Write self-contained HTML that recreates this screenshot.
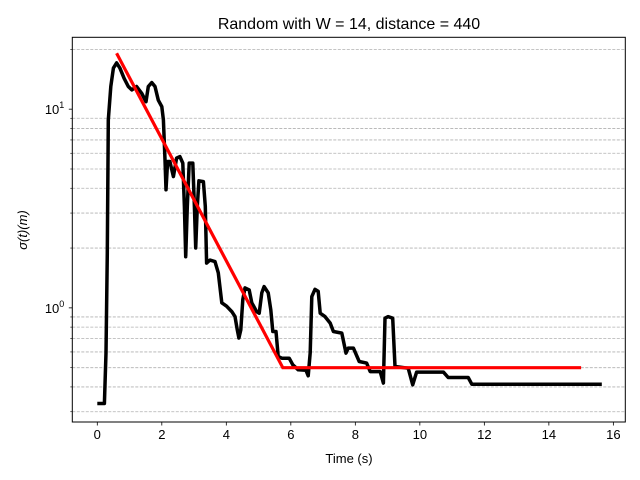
<!DOCTYPE html>
<html><head><meta charset="utf-8"><style>
body{margin:0;background:#fff;}
svg{display:block;font-family:"Liberation Sans","DejaVu Sans",sans-serif;}
</style></head><body>
<svg id="chart" width="640" height="480" xmlns="http://www.w3.org/2000/svg">
<rect width="640" height="480" fill="#fff"/>
<text x="349" y="29" font-size="16" text-anchor="middle">Random with W = 14, distance = 440</text>
<text x="349" y="463" font-size="13" text-anchor="middle">Time (s)</text>
<text transform="translate(27,230) rotate(-90)" font-size="13" text-anchor="middle" font-style="italic">σ(t)(m)</text>
<g id="grid"></g>
<g id="ticks"></g>
<g id="series"></g>
<rect x="72.3" y="37.3" width="553" height="384.7" fill="none" stroke="#000" stroke-width="1"/>
</svg>
<script>
const timeS=[0,0.22,0.27,0.31,0.34,0.42,0.50,0.60,0.70,0.83,0.96,1.07,1.22,1.38,1.51,1.58,1.69,1.79,1.89,2.00,2.05,2.10,2.13,2.18,2.25,2.36,2.46,2.56,2.65,2.70,2.74,2.79,2.85,2.96,3.01,3.05,3.10,3.15,3.29,3.35,3.39,3.49,3.65,3.75,3.86,4.01,4.17,4.27,4.34,4.39,4.45,4.51,4.58,4.71,4.79,4.94,5.02,5.10,5.17,5.30,5.38,5.44,5.54,5.61,5.72,5.95,6.06,6.23,6.47,6.54,6.60,6.65,6.75,6.85,6.91,7.06,7.22,7.32,7.58,7.71,7.78,7.94,8.12,8.35,8.46,8.77,8.87,8.92,9.02,9.16,9.23,9.64,9.78,9.90,10.73,10.88,11.50,11.61,15.64];
const sigma=[0.33,0.33,0.594,1.89,8.83,13.0,16.1,17.1,16.1,14.3,13.0,12.5,13.0,12.0,10.9,13.0,13.6,13.0,11.1,10.3,8.83,5.56,3.93,5.45,5.45,4.58,5.67,5.77,5.35,3.24,1.81,3.24,5.35,5.35,3.24,2.0,3.24,4.36,4.32,3.24,1.68,1.74,1.71,1.50,1.06,1.02,0.958,0.904,0.775,0.705,0.775,1.10,1.26,1.23,1.06,0.958,0.94,1.19,1.28,1.19,0.977,0.760,0.760,0.569,0.558,0.558,0.517,0.488,0.485,0.455,0.594,1.14,1.24,1.21,0.94,0.904,0.838,0.760,0.746,0.592,0.627,0.627,0.537,0.527,0.478,0.478,0.418,0.887,0.904,0.887,0.507,0.497,0.41,0.475,0.475,0.446,0.446,0.413,0.413];
const fitT=[0.60,5.75,15.0];
const fitV=[19.1,0.5,0.5];
const xTicks=[0,2,4,6,8,10,12,14,16];
const yMajor=[1,10];
const yMinor=[0.3,0.4,0.5,0.6,0.7,0.8,0.9,2,3,4,5,6,7,8,9,20];
const NS="http://www.w3.org/2000/svg";
const X0=72.3,X1=625.3,Y0=37.3,Y1=422;
const xmin=-0.775,xmax=16.37,lmin=Math.log10(0.2664),lmax=Math.log10(23.0);
const sx=t=>X0+(t-xmin)/(xmax-xmin)*(X1-X0);
const sy=v=>Y1-(Math.log10(v)-lmin)/(lmax-lmin)*(Y1-Y0);
function mk(tag,attrs,parent){const e=document.createElementNS(NS,tag);for(const k in attrs)e.setAttribute(k,attrs[k]);parent.appendChild(e);return e;}
const grid=document.getElementById('grid'),ticks=document.getElementById('ticks'),series=document.getElementById('series');
yMinor.forEach(v=>{
 const g=mk('line',{x1:X0,x2:X1,y1:sy(v),y2:sy(v),stroke:'#b0b0b0','stroke-width':0.8,'stroke-dasharray':'3,1.5'},grid);
 
 
 const t=mk('line',{x1:X0-2,x2:X0,y1:sy(v),y2:sy(v),stroke:'#000','stroke-width':0.6},ticks);
 
 
});
yMajor.forEach(v=>{
 const t=mk('line',{x1:X0-3.5,x2:X0,y1:sy(v),y2:sy(v),stroke:'#000','stroke-width':0.8},ticks);
 
 
 const lb=mk('text',{x:X0-8,y:sy(v)+5,'font-size':13,'text-anchor':'end'},ticks);
 
 
 lb.innerHTML='10<tspan font-size="9" dy="-6">'+Math.round(Math.log10(v))+'</tspan>';
});
xTicks.forEach(v=>{
 const t=mk('line',{x1:sx(v),x2:sx(v),y1:Y1,y2:Y1+3.5,stroke:'#000','stroke-width':0.8},ticks);
 
 
 const lb=mk('text',{x:sx(v),y:Y1+17,'font-size':13,'text-anchor':'middle'},ticks);
 
 
 lb.textContent=v;
});
const d1=timeS.map((t,i)=>(i?'L':'M')+sx(t).toFixed(1)+','+sy(sigma[i]).toFixed(1)).join('');
const p1=mk('path',{d:d1,fill:'none',stroke:'#000','stroke-width':3.5,'stroke-linejoin':'round'},series);


const d2=fitT.map((t,i)=>(i?'L':'M')+sx(t).toFixed(1)+','+sy(fitV[i]).toFixed(1)).join('');
const p2=mk('path',{d:d2,fill:'none',stroke:'#ff0000','stroke-width':3.2},series);


</script>
</body></html>
